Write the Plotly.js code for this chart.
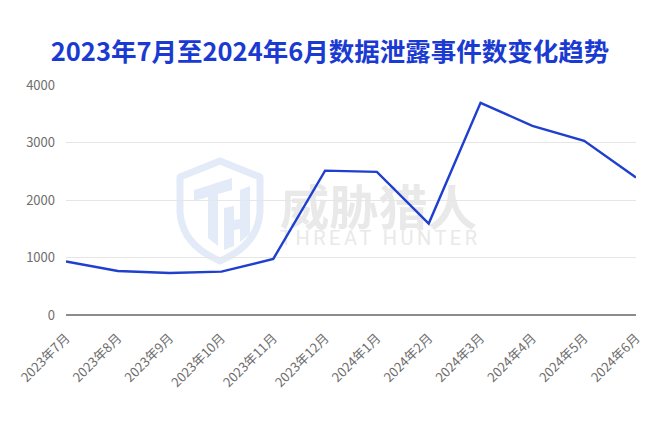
<!DOCTYPE html>
<html>
<head>
<meta charset="utf-8">
<script src="https://cdn.plot.ly/plotly-3.0.1.min.js"></script>
<style>html,body{margin:0;padding:0;background:#fff;}#chart{width:660px;height:425px;}</style>
</head>
<body>
<div id="chart"></div>
<script>
const months = ["2023年7月","2023年8月","2023年9月","2023年10月","2023年11月","2023年12月","2024年1月","2024年2月","2024年3月","2024年4月","2024年5月","2024年6月"];
const incidents = [930, 765, 730, 755, 975, 2510, 2490, 1590, 3690, 3290, 3030, 2390];
const yTicks = [0, 1000, 2000, 3000, 4000];
const titleText = "2023年7月至2024年6月数据泄露事件数变化趋势";

const M = {l: 66, r: 24, t: 85, b: 110};
const W = 660, H = 425;
const pw = W - M.l - M.r, ph = H - M.t - M.b;
const px = X => (X - M.l) / pw;
const py = Y => (H - M.b - Y) / ph;

// decorative watermark (logo + brand text), drawn beneath the plot
const wm = `<svg xmlns="http://www.w3.org/2000/svg" width="320" height="120" viewBox="0 0 320 120">
<path d="M50 11 L90 27 L90 62 Q88 95 50 111 Q12 95 10 62 L10 27 Z" fill="none" stroke="#e3ebf8" stroke-width="7" stroke-linejoin="round"/>
<path d="M24 40 L62 28 L62 40 L48 44 L48 96 L38 88 L38 47 L24 51 Z" fill="#e3ebf8"/>
<path d="M54 58 L64 56 L64 70 L70 69 L70 40 L80 36 L80 84 L70 92 L70 79 L64 80 L64 96 L54 100 Z" fill="#e3ebf8"/>
<text x="110" y="75" font-family="Noto Sans CJK SC" font-weight="bold" font-size="48" fill="#e9e9e9" textLength="197" lengthAdjust="spacingAndGlyphs">威胁猎人</text>
<text x="110" y="95" font-family="Roboto, sans-serif" font-size="20" fill="#e9e9e9" textLength="197" lengthAdjust="spacing">THREAT HUNTER</text>
</svg>`;

const data = [{
  x: months,
  y: incidents,
  type: 'scatter',
  mode: 'lines',
  line: {color: '#1f3fcf', width: 2.4},
  hoverinfo: 'x+y'
}];

const layout = {
  width: W, height: H,
  margin: M,
  paper_bgcolor: '#fff', plot_bgcolor: 'rgba(0,0,0,0)',
  showlegend: false,
  title: {
    text: titleText,
    font: {family: '"Noto Sans CJK SC", sans-serif', size: 25.5, color: '#1a3ad2', weight: 'bold'},
    x: 0.5, xanchor: 'center', y: 1 - 52/H, yanchor: 'middle', yref: 'container'
  },
  xaxis: {
    type: 'category',
    range: [0, months.length - 1],
    tickangle: -45,
    tickfont: {family: '"Noto Sans CJK SC", sans-serif', size: 13, color: '#6e6e6e'},
    showgrid: false,
    showline: false,
    zeroline: false,
    ticks: '',
    ticklabelstandoff: 12,
    fixedrange: true
  },
  yaxis: {
    range: [0, 4000],
    tickvals: yTicks,
    ticktext: yTicks.map(String),
    tickfont: {family: '"Noto Sans CJK SC", sans-serif', size: 13, color: '#6e6e6e'},
    gridcolor: '#e6e6e6',
    gridwidth: 1,
    zeroline: true,
    zerolinecolor: '#8c8c8c',
    zerolinewidth: 1.5,
    showline: false,
    ticks: '',
    ticklabelstandoff: 10,
    fixedrange: true
  },
  images: [{
    source: 'data:image/svg+xml;charset=utf-8,' + encodeURIComponent(wm),
    xref: 'paper', yref: 'paper',
    x: px(170), y: py(150), sizex: 320 / pw, sizey: 120 / ph,
    xanchor: 'left', yanchor: 'top', sizing: 'stretch', layer: 'below'
  }]
};

Plotly.newPlot('chart', data, layout, {displayModeBar: false, staticPlot: true});
</script>
</body>
</html>
